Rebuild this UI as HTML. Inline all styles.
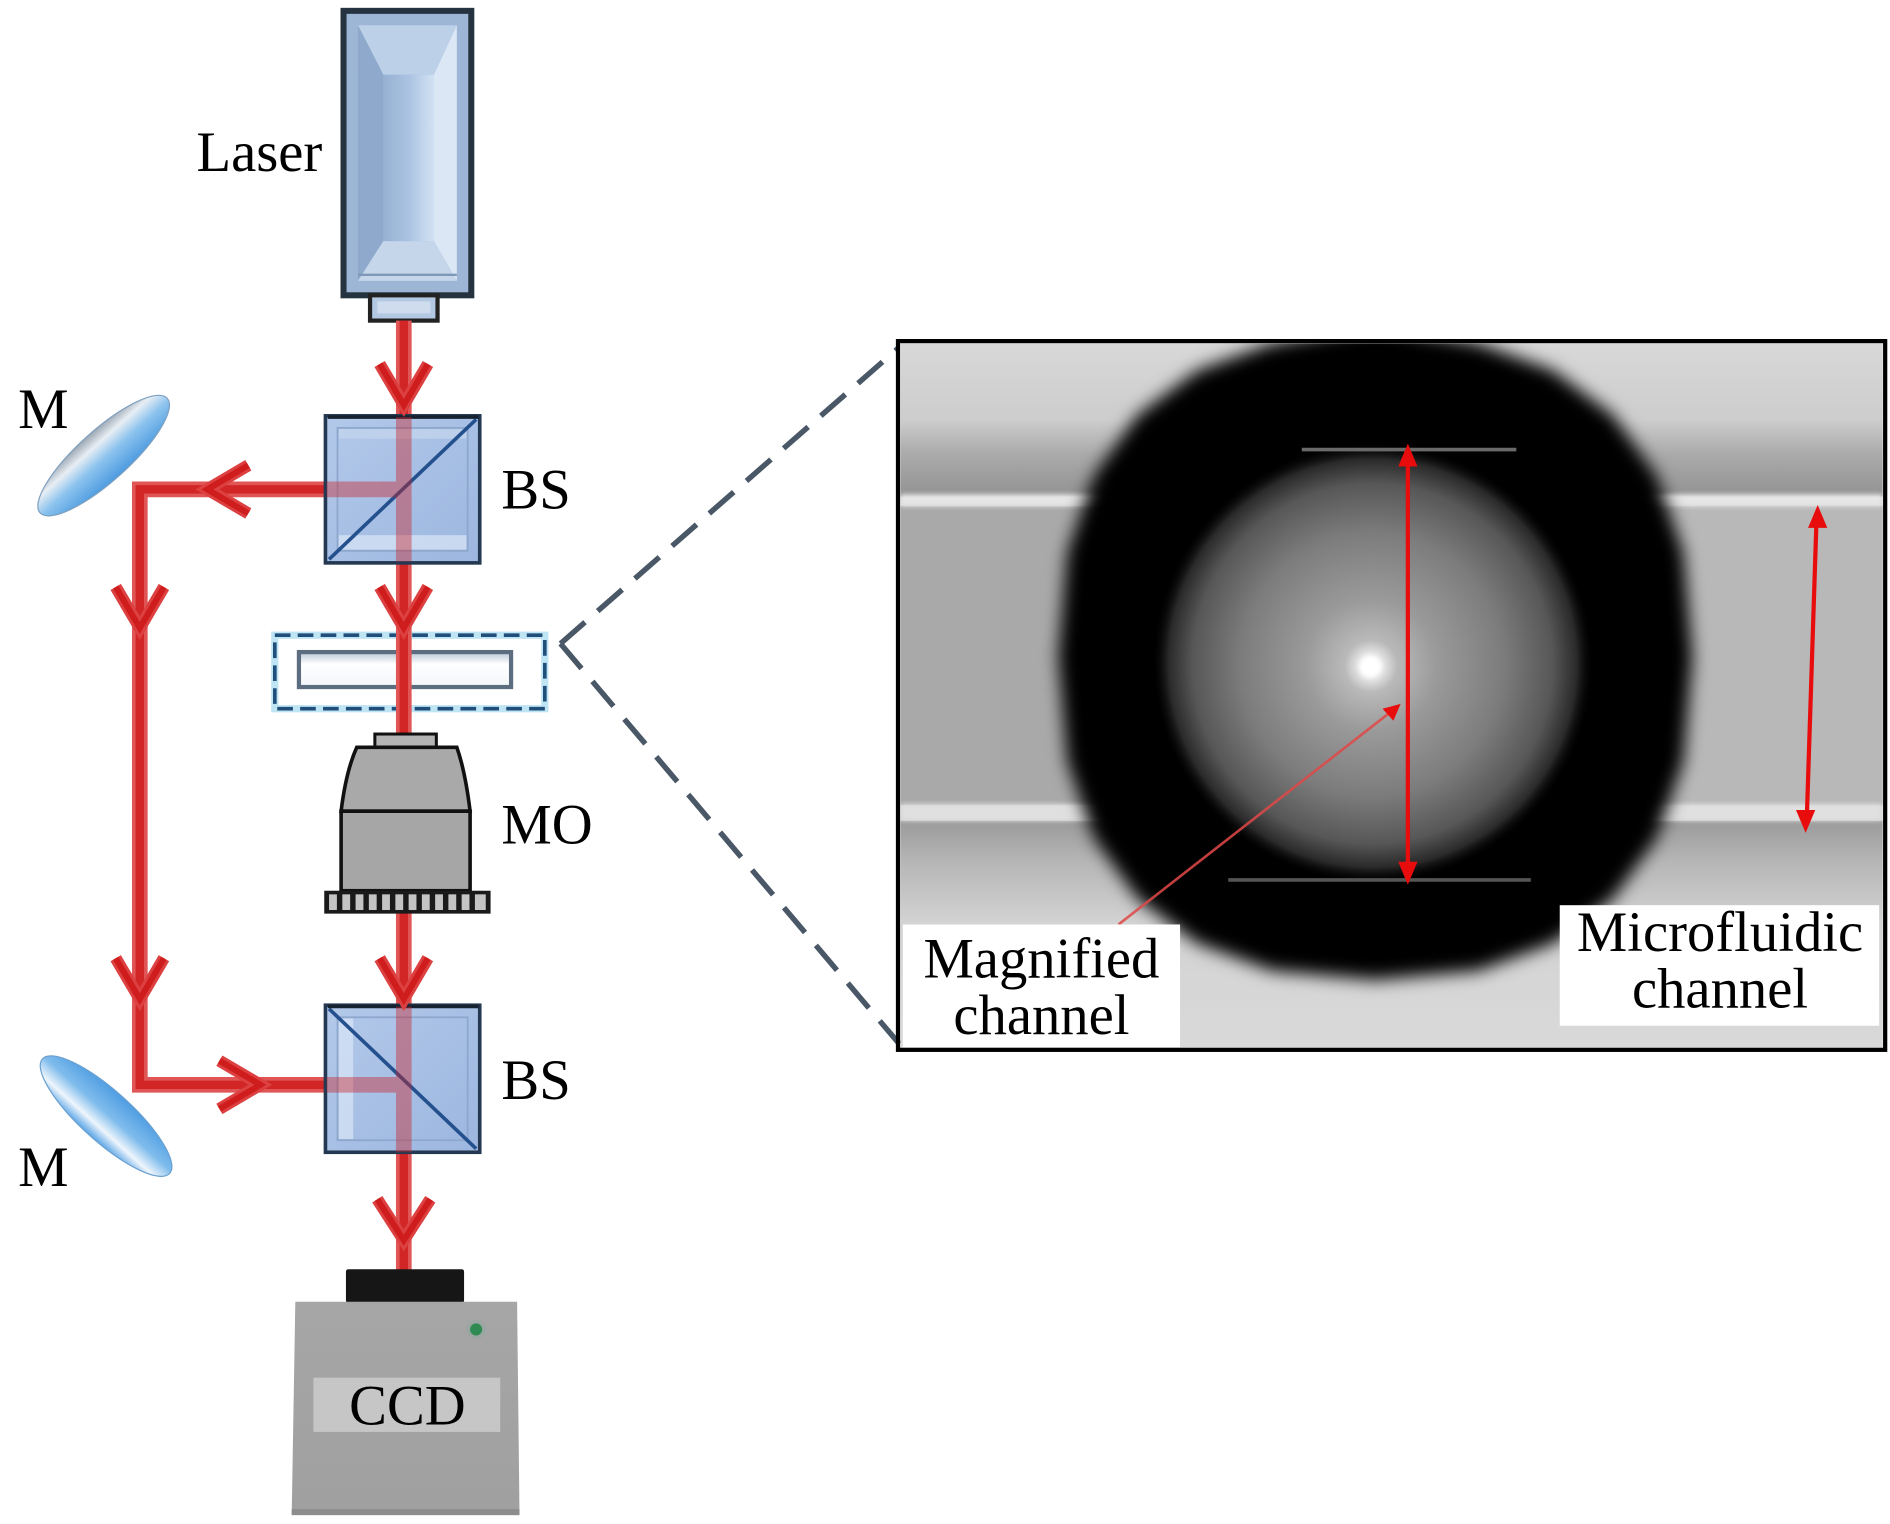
<!DOCTYPE html>
<html><head><meta charset="utf-8"><style>
html,body{margin:0;padding:0;background:#fff;}
svg{display:block;}
text{font-family:"Liberation Serif","Times New Roman",serif;fill:#000;}
</style></head><body>
<svg width="1890" height="1524" viewBox="0 0 1568 1264.4" preserveAspectRatio="none" xmlns="http://www.w3.org/2000/svg">
<defs>
  <linearGradient id="lzInner" x1="0" y1="0" x2="1" y2="0">
    <stop offset="0" stop-color="#97b1d3"/><stop offset="0.5" stop-color="#aac3e2"/><stop offset="1" stop-color="#d3e2f3"/>
  </linearGradient>
  <linearGradient id="bsFill" x1="0" y1="0" x2="1" y2="1">
    <stop offset="0" stop-color="#b3c9ea"/><stop offset="1" stop-color="#9cb6df"/>
  </linearGradient>
  <linearGradient id="m1g" gradientUnits="objectBoundingBox" x1="0" y1="0" x2="0" y2="1">
    <stop offset="0" stop-color="#9aa6b2"/><stop offset="0.25" stop-color="#e8eef4"/><stop offset="0.55" stop-color="#8cc3ee"/><stop offset="1" stop-color="#4d9be0"/>
  </linearGradient>
  <linearGradient id="m2g" gradientUnits="objectBoundingBox" x1="0" y1="0" x2="0" y2="1">
    <stop offset="0" stop-color="#4f9de2"/><stop offset="0.45" stop-color="#7fbcec"/><stop offset="0.75" stop-color="#eef5fc"/><stop offset="1" stop-color="#5aa5e6"/>
  </linearGradient>
  <linearGradient id="slideG" x1="0" y1="0" x2="0" y2="1">
    <stop offset="0" stop-color="#b9c7d6"/><stop offset="0.35" stop-color="#ffffff"/><stop offset="1" stop-color="#f2f6fa"/>
  </linearGradient>
  <linearGradient id="ccdG" x1="0" y1="0" x2="0" y2="1">
    <stop offset="0" stop-color="#a6a6a6"/><stop offset="1" stop-color="#a0a0a0"/>
  </linearGradient>
  <linearGradient id="upperG" x1="0" y1="285" x2="0" y2="412" gradientUnits="userSpaceOnUse">
    <stop offset="0" stop-color="#d8d8d8"/><stop offset="0.5" stop-color="#cdcdcd"/><stop offset="0.72" stop-color="#ababab"/><stop offset="1" stop-color="#929292"/>
  </linearGradient>
  <linearGradient id="lowerG" x1="0" y1="681" x2="0" y2="870" gradientUnits="userSpaceOnUse">
    <stop offset="0" stop-color="#9a9a9a"/><stop offset="0.18" stop-color="#b6b6b6"/><stop offset="0.45" stop-color="#d3d3d3"/><stop offset="1" stop-color="#d9d9d9"/>
  </linearGradient>
  <radialGradient id="sphereG" gradientUnits="userSpaceOnUse" cx="1139" cy="550" r="182" fx="1137" fy="553">
    <stop offset="0" stop-color="#ffffff"/><stop offset="0.04" stop-color="#f2f2f2"/><stop offset="0.12" stop-color="#b9b9b9"/><stop offset="0.3" stop-color="#9a9a9a"/><stop offset="0.6" stop-color="#7c7c7c"/><stop offset="0.82" stop-color="#575757"/><stop offset="0.93" stop-color="#2a2a2a"/><stop offset="1" stop-color="#0a0a0a" stop-opacity="0"/>
  </radialGradient>
  <filter id="blur6" x="-20%" y="-20%" width="140%" height="140%"><feGaussianBlur stdDeviation="7"/></filter>
  <filter id="blur2" x="-20%" y="-20%" width="140%" height="140%"><feGaussianBlur stdDeviation="2"/></filter>
  <clipPath id="photoClip"><rect x="747" y="285" width="815" height="584"/></clipPath>
</defs>

<!-- ===== Laser ===== -->
<rect x="285" y="9" width="106" height="236" fill="#9db6d6" stroke="#25323f" stroke-width="5"/>
<polygon points="297,21 379,21 360,62 318,62" fill="#bcd0e8"/>
<polygon points="297,21 318,62 318,200 297,233" fill="#8ea9cc"/>
<polygon points="379,21 379,233 360,200 360,62" fill="#dbe7f5"/>
<polygon points="297,233 379,233 360,200 318,200" fill="#c5d6eb"/>
<rect x="318" y="62" width="42" height="138" fill="url(#lzInner)"/>
<line x1="297" y1="228" x2="379" y2="228" stroke="#7f98b8" stroke-width="2"/>
<rect x="307" y="245" width="56" height="21" fill="#b3c8e2" stroke="#222" stroke-width="3.5"/>
<rect x="313" y="250" width="44" height="10" fill="#cfdced"/>
<text x="163" y="142" font-size="47">Laser</text>

<!-- ===== Mirrors (under beams) ===== -->
<ellipse cx="86" cy="378" rx="71" ry="21" transform="rotate(-42 86 378)" fill="url(#m1g)" stroke="#7ea0c0" stroke-width="1"/>
<ellipse cx="88" cy="926" rx="71" ry="21" transform="rotate(42 88 926)" fill="url(#m2g)" stroke="#6aa0d0" stroke-width="1"/>
<text x="15" y="355" font-size="47">M</text>
<text x="15" y="984" font-size="47">M</text>

<!-- ===== Sample slide + dashed box ===== -->
<rect x="228" y="527" width="224" height="61" fill="none" stroke="#bfe4f4" stroke-width="6"/>
<rect x="228" y="527" width="224" height="61" fill="none" stroke="#1f4f7a" stroke-width="3" stroke-dasharray="13 6"/>
<rect x="248" y="541" width="176" height="29" fill="url(#slideG)" stroke="#5d6d80" stroke-width="3.5"/>

<!-- ===== Beams ===== -->
<g fill="none" stroke-linejoin="miter">
  <g stroke="#e05656" stroke-width="13">
    <line x1="335" y1="266" x2="335" y2="346"/>
    <line x1="335" y1="466" x2="335" y2="610"/>
    <line x1="335" y1="757" x2="335" y2="835"/>
    <line x1="335" y1="956" x2="335" y2="1054"/>
    <polyline points="271,406 116,406 116,900 271,900"/>
  </g>
  <g stroke="#d22626" stroke-width="7">
    <line x1="335" y1="266" x2="335" y2="346"/>
    <line x1="335" y1="466" x2="335" y2="610"/>
    <line x1="335" y1="757" x2="335" y2="835"/>
    <line x1="335" y1="956" x2="335" y2="1054"/>
    <polyline points="271,406 116,406 116,900 271,900"/>
  </g>
</g>

<!-- ===== Beam splitters ===== -->
<g>
  <rect x="270" y="345" width="128" height="122" fill="url(#bsFill)" stroke="#243851" stroke-width="3"/>
  <rect x="280" y="355" width="108" height="102" fill="none" stroke="#8ea7cc" stroke-width="1.5"/>
  <rect x="281" y="444" width="106" height="12" fill="#d3e1f4" opacity="0.8"/>
  <rect x="281" y="356" width="106" height="8" fill="#c4d5ee" opacity="0.7"/>
  <line x1="273" y1="464" x2="395" y2="348" stroke="#24508e" stroke-width="3"/>
  <line x1="272" y1="346" x2="397" y2="346" stroke="#16222f" stroke-width="3"/>
</g>
<g>
  <rect x="270" y="834" width="128" height="122" fill="url(#bsFill)" stroke="#243851" stroke-width="3"/>
  <rect x="280" y="844" width="108" height="102" fill="none" stroke="#8ea7cc" stroke-width="1.5"/>
  <rect x="281" y="845" width="12" height="100" fill="#d8e6f7" opacity="0.7"/>
  <line x1="273" y1="837" x2="395" y2="953" stroke="#24508e" stroke-width="3"/>
  <line x1="272" y1="835" x2="397" y2="835" stroke="#16222f" stroke-width="3"/>
</g>
<g stroke="#c8242a" stroke-width="13" opacity="0.42" fill="none">
  <line x1="335" y1="346" x2="335" y2="466"/>
  <line x1="271" y1="406" x2="335" y2="406"/>
  <line x1="335" y1="835" x2="335" y2="956"/>
  <line x1="271" y1="900" x2="335" y2="900"/>
</g>
<text x="416" y="422" font-size="47">BS</text>
<text x="416" y="912" font-size="47">BS</text>

<!-- ===== Arrow chevrons ===== -->
<g fill="none" stroke-linejoin="miter" stroke-miterlimit="10">
  <g stroke="#dc4040" stroke-width="10">
    <polyline points="315,302 335,336 355,302"/>
    <polyline points="206,386 172,406 206,426"/>
    <polyline points="315,487 335,521 355,487"/>
    <polyline points="96,487 116,521 136,487"/>
    <polyline points="96,795 116,829 136,795"/>
    <polyline points="315,795 335,829 355,795"/>
    <polyline points="182,880 216,900 182,920"/>
    <polyline points="313,995 335,1029 357,995"/>
  </g>
  <g stroke="#cf1c1c" stroke-width="5">
    <polyline points="315,302 335,336 355,302"/>
    <polyline points="206,386 172,406 206,426"/>
    <polyline points="315,487 335,521 355,487"/>
    <polyline points="96,487 116,521 136,487"/>
    <polyline points="96,795 116,829 136,795"/>
    <polyline points="315,795 335,829 355,795"/>
    <polyline points="182,880 216,900 182,920"/>
    <polyline points="313,995 335,1029 357,995"/>
  </g>
</g>

<!-- ===== Microscope objective ===== -->
<rect x="311" y="609" width="51" height="11" fill="#b4b4b4" stroke="#111" stroke-width="2.5"/>
<path d="M296,620 L379,620 Q386,640 390,673 L283,673 Q287,640 296,620 Z" fill="#a9a9a9" stroke="#111" stroke-width="3"/>
<rect x="283" y="673" width="107" height="66" fill="#a6a6a6" stroke="#111" stroke-width="3"/>
<rect x="269" y="739" width="138" height="19" fill="#1a1a1a"/>
<g fill="#c4c4c4">
  <rect x="273" y="742" width="6.5" height="13"/><rect x="284" y="742" width="6.5" height="13"/>
  <rect x="295" y="742" width="6.5" height="13"/><rect x="306" y="742" width="6.5" height="13"/>
  <rect x="317" y="742" width="6.5" height="13"/><rect x="328" y="742" width="6.5" height="13"/>
  <rect x="339" y="742" width="6.5" height="13"/><rect x="350" y="742" width="6.5" height="13"/>
  <rect x="361" y="742" width="6.5" height="13"/><rect x="372" y="742" width="6.5" height="13"/>
  <rect x="383" y="742" width="6.5" height="13"/><rect x="394" y="742" width="9" height="13"/>
</g>
<text x="416" y="700" font-size="47">MO</text>

<!-- ===== CCD ===== -->
<rect x="287" y="1053" width="98" height="28" rx="2" fill="#161616"/>
<polygon points="245,1080 429,1080 431,1257 242,1257" fill="url(#ccdG)"/>
<rect x="242" y="1252" width="189" height="5" fill="#8d8d8d"/>
<rect x="260" y="1143" width="155" height="45" fill="#c6c6c6"/>
<circle cx="395" cy="1103" r="8" fill="#8fa8a0" opacity="0.5"/>
<circle cx="395" cy="1103" r="5" fill="#2f8a52"/>
<text x="338" y="1182" font-size="47" text-anchor="middle">CCD</text>

<!-- ===== Dashed connectors ===== -->
<g stroke="#4a5766" stroke-width="4.5" fill="none" stroke-dasharray="27 14">
  <line x1="465" y1="534" x2="745" y2="289"/>
  <line x1="465" y1="534" x2="746" y2="866"/>
</g>

<!-- ===== Photo ===== -->
<g clip-path="url(#photoClip)">
  <rect x="747" y="285" width="815" height="584" fill="#cfcfcf"/>
  <rect x="747" y="285" width="815" height="127" fill="url(#upperG)"/>
  <rect x="747" y="420" width="815" height="248" fill="#a9a9a9"/>
  <rect x="1300" y="420" width="262" height="248" fill="#b8b8b8"/>
  <rect x="747" y="681" width="815" height="189" fill="url(#lowerG)"/>
  <g filter="url(#blur2)">
    <rect x="747" y="410" width="815" height="10" fill="#e6e6e6"/>
    <rect x="747" y="667" width="815" height="14" fill="#e0e0e0"/>
  </g>
  <!-- droplet (superellipse) -->
  <polygon filter="url(#blur6)" fill="#050505" points="1404,545 1396.5,631.9 1374.3,695.5 1338.1,745.8 1288.6,782.7 1226.3,805.4 1141,813 1055.7,805.4 993.4,782.7 943.9,745.8 907.7,695.5 885.5,631.9 878,545 885.5,458.1 907.7,394.5 943.9,344.2 993.4,307.3 1055.7,284.6 1141,270 1226.3,284.6 1288.6,307.3 1338.1,344.2 1374.3,394.5 1396.5,458.1"/>
  <circle cx="1139" cy="550" r="182" fill="url(#sphereG)"/>
  <circle cx="1137" cy="553" r="9" fill="#ffffff" filter="url(#blur2)"/>
  <line x1="1080" y1="373" x2="1258" y2="373" stroke="#6a6a6a" stroke-width="3"/>
  <line x1="1019" y1="730" x2="1270" y2="730" stroke="#555" stroke-width="3"/>
  <!-- red annotations -->
  <line x1="1168" y1="380" x2="1168" y2="722" stroke="#e80c0c" stroke-width="3.5"/>
  <polygon points="1168,368 1160,387 1176,387" fill="#e80c0c"/>
  <polygon points="1168,734 1160,715 1176,715" fill="#e80c0c"/>
  <line x1="1507" y1="432" x2="1499" y2="678" stroke="#e80c0c" stroke-width="3.5"/>
  <polygon points="1508,419 1500,438 1516,438" fill="#e80c0c"/>
  <polygon points="1498,691 1490,672 1506,672" fill="#e80c0c"/>
  <line x1="928" y1="767" x2="1152" y2="592" stroke="#e04848" stroke-width="2.2" opacity="0.85"/>
  <polygon points="1162,584 1147,588 1156,598" fill="#e80c0c"/>
  <!-- labels -->
  <rect x="749" y="767" width="230" height="102" fill="#ffffff"/>
  <rect x="1294" y="751" width="265" height="100" fill="#ffffff"/>
</g>
<rect x="745" y="283" width="819" height="588" fill="none" stroke="#000" stroke-width="3.5"/>
<text x="864" y="811" font-size="47" text-anchor="middle">Magnified</text>
<text x="864" y="858" font-size="47" text-anchor="middle">channel</text>
<text x="1427" y="789" font-size="47" text-anchor="middle">Microfluidic</text>
<text x="1427" y="836" font-size="47" text-anchor="middle">channel</text>
</svg>
</body></html>
